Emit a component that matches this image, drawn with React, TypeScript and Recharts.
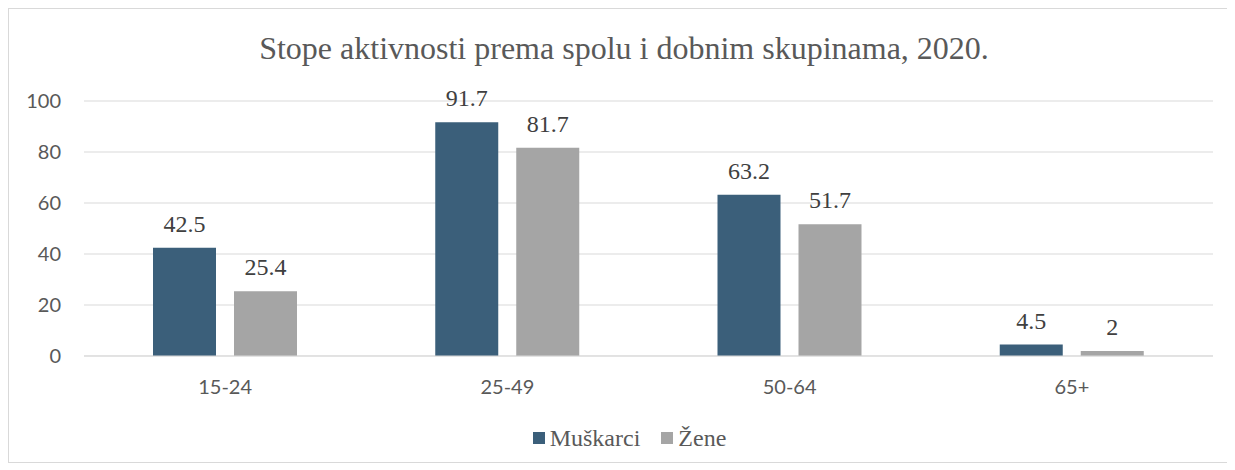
import React from 'react';
import { BarChart, Bar, XAxis, YAxis, CartesianGrid, Legend } from 'recharts';

const categories = ['15-24', '25-49', '50-64', '65+'];
const muskarci = [42.5, 91.7, 63.2, 4.5];
const zene = [25.4, 81.7, 51.7, 2];
const yTicks = [0, 20, 40, 60, 80, 100];
const seriesNames = ['Muškarci', 'Žene'];
const seriesColors = ['#3B5F7A', '#A5A5A5'];
const title = 'Stope aktivnosti prema spolu i dobnim skupinama, 2020.';

const data = categories.map((c, i) => ({ cat: c, m: muskarci[i], z: zene[i] }));

const W = 1219;
const H = 453;
const serif = '"Liberation Serif", "Times New Roman", serif';
const sans = 'Lato, "Open Sans", sans-serif';

const LegendContent = () => (
  <div style={{ display: 'flex', justifyContent: 'center', alignItems: 'center', height: 30, paddingLeft: 22, fontFamily: serif, fontSize: 24, color: '#595959' }}>
    {seriesNames.map((n, i) => (
      <div key={n} style={{ display: 'flex', alignItems: 'center', marginRight: i === 0 ? 21 : 0 }}>
        <span style={{ display: 'inline-block', width: 12, height: 12, background: seriesColors[i], marginRight: 5 }} />
        <span style={{ lineHeight: '30px' }}>{n}</span>
      </div>
    ))}
  </div>
);

const renderLabel = (p: any) => (
  <text
    x={Number(p.x) + Number(p.width) / 2}
    y={Number(p.y) - 16}
    textAnchor="middle"
    fontFamily={serif}
    fontSize={24}
    fill="#404040"
  >
    {p.value}
  </text>
);

export default function App() {
  return (
    <div style={{ width: W, height: H, border: '1px solid #D9D9D9', background: '#fff' }}>
      <BarChart width={W} height={H} data={data} margin={{ top: 92, right: 15, bottom: 9, left: 0 }} barSize={63} barGap={18}>
        <text x={615} y={50} textAnchor="middle" fontFamily={serif} fontSize={32} fill="#595959">{title}</text>
        <CartesianGrid vertical={false} stroke="#D9D9D9" strokeWidth={1} />
        <XAxis dataKey="cat" height={67} tickSize={0} tickMargin={24} axisLine={{ stroke: '#D9D9D9' }} tickLine={false}
          tick={{ fontFamily: sans, fontSize: 20, fill: '#595959' }} />
        <YAxis width={75} domain={[0, 100]} ticks={yTicks} tickSize={0} tickMargin={23} axisLine={false} tickLine={false}
          tick={{ fontFamily: sans, fontSize: 20, fill: '#595959' }} />
        <Legend verticalAlign="bottom" content={<LegendContent />} wrapperStyle={{ left: 0, width: W }} />
        <Bar dataKey="m" name={seriesNames[0]} fill={seriesColors[0]} isAnimationActive={false} label={renderLabel} />
        <Bar dataKey="z" name={seriesNames[1]} fill={seriesColors[1]} isAnimationActive={false} label={renderLabel} />
      </BarChart>
    </div>
  );
}
